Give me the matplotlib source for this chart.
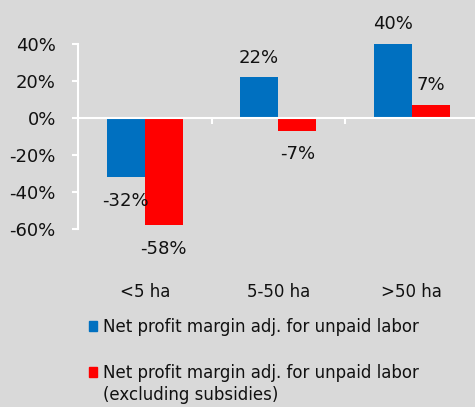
import matplotlib
matplotlib.use('Agg')
import matplotlib.pyplot as plt
from matplotlib.patches import Rectangle
from matplotlib.transforms import blended_transform_factory
import numpy as np

categories = ['<5 ha', '5-50 ha', '>50 ha']
margin_adj = [-32, 22, 40]
margin_adj_excl = [-58, -7, 7]
series_names = ['Net profit margin adj. for unpaid labor',
                'Net profit margin adj. for unpaid labor\n(excluding subsidies)']
yticks = [-60, -40, -20, 0, 20, 40]

bg = '#d9d9d9'
blue = '#0070c0'
red = '#ff0000'
txt = '#111111'

plt.rcParams['font.family'] = 'DejaVu Sans'

fig = plt.figure(figsize=(4.75, 4.07), dpi=100, facecolor=bg)
ax = fig.add_axes([78 / 475, 178.3 / 407, 400.5 / 475, 185 / 407])
ax.set_facecolor(bg)

x = np.arange(len(categories))
w = 0.286
b1 = ax.bar(x - w / 2, margin_adj, w, color=blue)
b2 = ax.bar(x + w / 2, margin_adj_excl, w, color=red)

# value labels above/below the bar ends
for bars, vals in [(b1, margin_adj), (b2, margin_adj_excl)]:
    for bar, v in zip(bars, vals):
        off = 14 if v > 0 else -17
        ax.annotate('%d%%' % v, (bar.get_x() + bar.get_width() / 2, v),
                    xytext=(0, off), textcoords='offset points',
                    ha='center', va='center', fontsize=13, color=txt)

ax.set_xlim(-0.5, 2.5)
ax.set_ylim(-60, 40)
ax.set_yticks(yticks)
ax.set_yticklabels(['%d%%' % t for t in yticks], fontsize=13, color=txt)
ax.tick_params(axis='y', colors='white', labelcolor=txt, length=4, width=1.5, pad=12)

ax.spines['bottom'].set_position(('data', 0))
ax.spines['top'].set_visible(False)
ax.spines['right'].set_visible(False)
for s in ['left', 'bottom']:
    ax.spines[s].set_color('white')
    ax.spines[s].set_linewidth(1.5)
ax.set_xticks([0.5, 1.5, 2.5])
ax.set_xticklabels([])
ax.tick_params(axis='x', colors='white', length=4, width=1.5, direction='out')

tr = blended_transform_factory(ax.transData, ax.transAxes)
for xi, c in zip(x, categories):
    ax.text(xi, -0.34, c, transform=tr, ha='center', va='center', fontsize=12, color=txt)

# legend drawn by hand so the red square sits on the first line
H = 407.0
for name, col, ytop in zip(series_names, [blue, red], [318, 364]):
    fig.patches.append(Rectangle((89 / 475, 1 - (ytop + 13) / H), 8 / 475, 10 / H,
                                 transform=fig.transFigure, color=col))
    fig.text(103 / 475, 1 - ytop / H, name, ha='left', va='top', fontsize=12,
             color=txt, linespacing=1.3)

fig.savefig('out.png', dpi=100, facecolor=bg)
